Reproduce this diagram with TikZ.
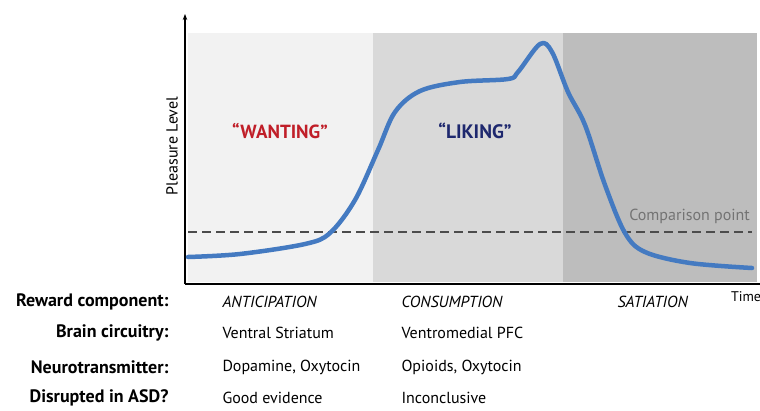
\documentclass[tikz,border=0pt]{standalone}
\usepackage{fontspec}
\setmainfont{PT Sans}
\usetikzlibrary{positioning,arrows.meta}
\definecolor{curveblue}{RGB}{68,122,193}
\definecolor{wantred}{RGB}{192,30,40}
\definecolor{likenavy}{RGB}{30,40,110}
\tikzset{
  rowlabel/.style={anchor=east, font=\fontsize{18}{20}\selectfont\bfseries},
  cell/.style={anchor=west, font=\fontsize{16}{18}\selectfont},
  phase/.style={anchor=west, font=\fontsize{16}{18}\selectfont\itshape}
}
\begin{document}
\begin{tikzpicture}[x=1pt, y=-1pt]
      \useasboundingbox (0,0) rectangle (760,410);
      % Shaded phases
      \fill[black!5] (188,33) rectangle (373,282);
      \fill[black!15] (373,33) rectangle (563,282);
      \fill[black!26] (563,33) rectangle (757,282);

      % Axes
      \coordinate (origin) at (185,284);
      \coordinate (ytop) at (185,14);
      \coordinate (xend) at (760,284);
      \draw[line width=1.2pt, -{Stealth[length=6pt]}] (origin) -- (ytop);
      \draw[line width=1.2pt] (origin) -- (xend);

      % Comparison line
      \coordinate (cmpstart) at (188,232);
      \coordinate (cmpend) at (752,232);
      \draw[black!70, line width=2.6pt, dash pattern=on 9pt off 5pt] (cmpstart) -- (cmpend);
      \node[anchor=south east, text=black!55, font=\fontsize{16}{18}\selectfont, inner sep=1pt] (cmp) at (751,225) {Comparison point};

      % Pleasure curve
      \draw[curveblue, line width=4.5pt, line cap=round, line join=round]
        plot[smooth, tension=0.55] coordinates {(188,257) (240,254) (305,244) (330,233) (355,200) (378,150) (395,112) (420,91) (460,82) (508,79) (518,72) (540,44) (552,52) (568,92) (585,125) (605,185) (625,233) (645,252) (690,263) (752,268)};

      % Phase names
      \node[text=wantred, font=\fontsize{19}{21}\selectfont\bfseries] (wanting) at (280,131) {``WANTING''};
      \node[text=likenavy, font=\fontsize{19.5}{21}\selectfont\bfseries] (liking) at (475,131) {``LIKING''};
      \node[rotate=90, font=\fontsize{16}{18}\selectfont] (ylabel) at (172,146) {Pleasure Level};
      \node[font=\fontsize{14}{16}\selectfont] (time) at (746,297) {Time};

      % Table rows
      \node[rowlabel] (reward) at (172,302) {Reward component:};
      \node[rowlabel] (brain) at (172,333) {Brain circuitry:};
      \node[rowlabel] (neuro) at (172,367) {Neurotransmitter:};
      \node[rowlabel] (asd) at (172,398) {Disrupted in ASD?};

      \node[phase] (antic) at (219,302) {ANTICIPATION};
      \node[phase] (consum) at (398,302) {CONSUMPTION};
      \node[phase] (satia) at (614,302) {SATIATION};

      \node[cell] (vs) at (219,333) {Ventral Striatum};
      \node[cell] (vmpfc) at (398,333) {Ventromedial PFC};
      \node[cell] (dopa) at (219,367) {Dopamine, Oxytocin};
      \node[cell] (opio) at (398,367) {Opioids, Oxytocin};
      \node[cell] (good) at (219,398) {Good evidence};
      \node[cell] (incon) at (398,398) {Inconclusive};
\end{tikzpicture}
\end{document}
